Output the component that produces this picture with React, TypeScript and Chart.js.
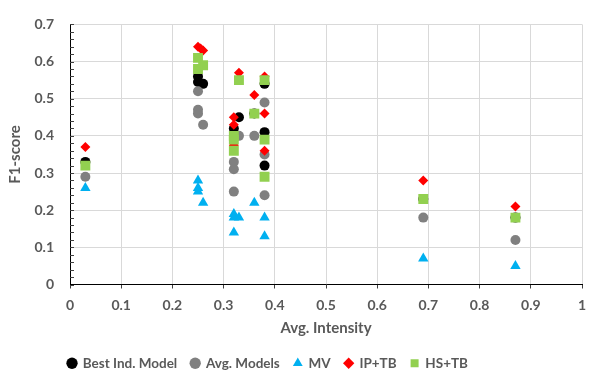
import React, { useEffect, useRef } from "react";
import { Chart, registerables } from "chart.js";

Chart.register(...registerables);

const seriesNames = ["Best Ind. Model", "Avg. Models", "MV", "IP+TB", "HS+TB"];

const bestX = [0.03, 0.25, 0.25, 0.26, 0.32, 0.33, 0.36, 0.38, 0.38, 0.38, 0.69, 0.87];
const bestY = [0.33, 0.56, 0.545, 0.54, 0.42, 0.45, 0.46, 0.54, 0.41, 0.32, 0.23, 0.18];

const avgX = [0.03, 0.25, 0.25, 0.25, 0.26, 0.32, 0.32, 0.32, 0.33, 0.36, 0.38, 0.38, 0.38, 0.69, 0.87];
const avgY = [0.29, 0.52, 0.47, 0.46, 0.43, 0.33, 0.31, 0.25, 0.4, 0.4, 0.49, 0.35, 0.24, 0.18, 0.12];

const mvX = [0.03, 0.25, 0.25, 0.25, 0.26, 0.32, 0.32, 0.33, 0.32, 0.36, 0.38, 0.38, 0.69, 0.87];
const mvY = [0.26, 0.28, 0.26, 0.25, 0.22, 0.19, 0.18, 0.18, 0.14, 0.22, 0.18, 0.13, 0.07, 0.05];

const ipX = [0.03, 0.25, 0.255, 0.26, 0.32, 0.32, 0.32, 0.33, 0.36, 0.38, 0.38, 0.38, 0.69, 0.87];
const ipY = [0.37, 0.64, 0.635, 0.63, 0.45, 0.43, 0.375, 0.57, 0.51, 0.56, 0.46, 0.36, 0.28, 0.21];

const hsX = [0.03, 0.25, 0.26, 0.25, 0.32, 0.32, 0.32, 0.33, 0.36, 0.38, 0.38, 0.38, 0.69, 0.87];
const hsY = [0.32, 0.61, 0.59, 0.58, 0.4, 0.39, 0.36, 0.55, 0.46, 0.55, 0.39, 0.29, 0.23, 0.18];

const xTitle = "Avg. Intensity";
const yTitle = "F1-score";

const pts = (xs: number[], ys: number[]) => xs.map((x, i) => ({ x, y: ys[i] }));

const TEXT = "#595959";
const FONT = "Lato, 'Open Sans', sans-serif";

const minorTicks = {
  id: "minorTicks",
  afterDatasetsDraw(chart: any) {
    const y = chart.scales.y;
    const ctx = chart.ctx;
    ctx.save();
    ctx.strokeStyle = "#404040";
    ctx.lineWidth = 1;
    for (let v = 0; v <= 0.7001; v += 0.02) {
      const py = Math.round(y.getPixelForValue(v)) + 0.5;
      ctx.beginPath();
      ctx.moveTo(chart.chartArea.left, py);
      ctx.lineTo(chart.chartArea.left + 4, py);
      ctx.stroke();
    }
    ctx.restore();
  },
};

const legendShift = {
  id: "legendShift",
  beforeDraw(chart: any) {
    const lg = chart.legend;
    if (lg && !lg._shifted) {
      lg.left -= 23;
      lg.right -= 23;
      lg._shifted = true;
    }
  },
};

export default function App() {
  const ref = useRef<HTMLCanvasElement | null>(null);
  useEffect(() => {
    if (!ref.current) return;
    const mk = (label: string, data: any, color: string, style: string, radius: number, order: number) => ({
      label,
      data,
      backgroundColor: color,
      borderColor: color,
      borderWidth: 0,
      pointStyle: style,
      pointRadius: radius,
      pointHoverRadius: radius,
      order,
    });
    const chart = new Chart(ref.current, {
      type: "scatter",
      data: {
        datasets: [
          mk(seriesNames[0], pts(bestX, bestY), "#000000", "circle", 5, 5),
          mk(seriesNames[1], pts(avgX, avgY), "#808080", "circle", 5, 4),
          mk(seriesNames[2], pts(mvX, mvY), "#00b0f0", "triangle", 6, 3),
          mk(seriesNames[3], pts(ipX, ipY), "#ff0000", "rectRot", 5, 2),
          mk(seriesNames[4], pts(hsX, hsY), "#92d050", "rect", 7, 1),
        ] as any,
      },
      options: {
        animation: false,
        responsive: true,
        maintainAspectRatio: false,
        layout: { padding: { left: 0, right: 7, top: 15, bottom: -7 } },
        plugins: {
          tooltip: { enabled: false },
          legend: {
            position: "bottom",
            labels: {
              usePointStyle: true,
              boxWidth: 8,
              boxHeight: 8,
              padding: 14,
              color: TEXT,
              font: { family: FONT, size: 13.5, weight: "bold" },
              sort: (a: any, b: any) => a.datasetIndex - b.datasetIndex,
            },
          },
        },
        scales: {
          x: {
            type: "linear",
            min: 0,
            max: 1,
            ticks: {
              stepSize: 0.1,
              color: TEXT,
              font: { family: FONT, size: 14, weight: "bold" },
              padding: 9,
              maxRotation: 0,
              callback: (v: any) => String(Math.round(Number(v) * 10) / 10),
            },
            grid: { color: "#d9d9d9", tickColor: "#404040", tickLength: 4 },
            border: { color: "#000000", width: 1 },
            title: {
              display: true,
              text: xTitle,
              color: TEXT,
              font: { family: FONT, size: 15, weight: "bold" },
              padding: { top: 2, bottom: 5 },
            },
            afterFit: (s: any) => {
              s.height = 58;
              s.paddingRight = 0;
              s.paddingLeft = 0;
            },
          },
          y: {
            type: "linear",
            min: 0,
            max: 0.7,
            ticks: {
              stepSize: 0.1,
              color: TEXT,
              font: { family: FONT, size: 14, weight: "bold" },
              padding: 16,
              callback: (v: any) => String(Math.round(Number(v) * 10) / 10),
            },
            grid: { color: "#d9d9d9", drawTicks: false },
            border: { color: "#000000", width: 1 },
            title: {
              display: true,
              text: yTitle,
              color: TEXT,
              font: { family: FONT, size: 15, weight: "bold" },
              padding: { top: 6, bottom: 0 },
            },
            afterFit: (s: any) => {
              s.width = 70;
            },
          },
        },
      } as any,
      plugins: [minorTicks, legendShift],
    });
    return () => chart.destroy();
  }, []);
  return (
    <div style={{ position: "absolute", left: 0, top: 0, width: 589, height: 373, background: "#fff" }}>
      <canvas ref={ref} />
    </div>
  );
}
